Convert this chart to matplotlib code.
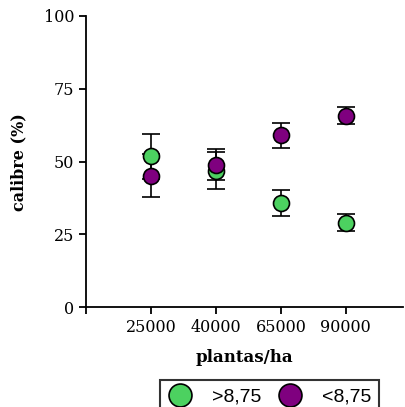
import matplotlib.pyplot as plt
from matplotlib.lines import Line2D

densidad = ['25000', '40000', '65000', '90000']
mayor = [51.8, 46.9, 35.8, 29.1]
mayor_err = [7.6, 6.3, 4.4, 2.8]
menor = [45.1, 49.0, 59.0, 65.8]
menor_err = [7.4, 5.3, 4.3, 3.0]
etiquetas = ['>8,75', '<8,75']
colores = ['#4cd160', '#7f007f']

fig = plt.figure(figsize=(4.06, 4.07), dpi=100)
ax = fig.add_axes([0.2118, 0.245, 0.7808, 0.7157])

x = list(range(len(densidad)))
for vals, errs, col in [(mayor, mayor_err, colores[0]), (menor, menor_err, colores[1])]:
    ax.errorbar(x, vals, yerr=errs, fmt='o', color='black', ecolor='black',
                markerfacecolor=col, markeredgecolor='black', markeredgewidth=1.2,
                markersize=11.5, elinewidth=1.2, capsize=6.5, capthick=1.2)

ax.set_xlim(-1, 3.88)
ax.set_ylim(0, 100)
ax.set_xticks(x)
ax.set_xticklabels(densidad)
ax.set_xticks([-1], minor=True)
ax.set_yticks([0, 25, 50, 75, 100])
ax.spines['top'].set_visible(False)
ax.spines['right'].set_visible(False)
for s in ['left', 'bottom']:
    ax.spines[s].set_linewidth(1.3)
ax.tick_params(which='both', width=1.3, length=5, labelsize=11.5)
for lab in ax.get_xticklabels() + ax.get_yticklabels():
    lab.set_family('DejaVu Serif')

ax.set_xlabel('plantas/ha', family='DejaVu Serif', fontweight='bold', fontsize=12, labelpad=9)
ax.set_ylabel('calibre (%)', family='DejaVu Serif', fontweight='bold', fontsize=11.5, labelpad=12)

handles = [Line2D([], [], linestyle='none', marker='o', markersize=16.5,
                  markerfacecolor=c, markeredgecolor='black', markeredgewidth=1.2)
           for c in colores]
leg = fig.legend(handles, etiquetas, loc='upper left', bbox_to_anchor=(160 / 406, 1 - 380 / 407),
                 ncol=2, frameon=True, fancybox=False, edgecolor='black',
                 prop={'family': 'Liberation Sans', 'size': 14}, handletextpad=1.0,
                 columnspacing=0.8, borderpad=0.4, handlelength=1.3,
                 borderaxespad=0)
leg.get_frame().set_linewidth(1.5)

plt.savefig('out.png', dpi=100)
